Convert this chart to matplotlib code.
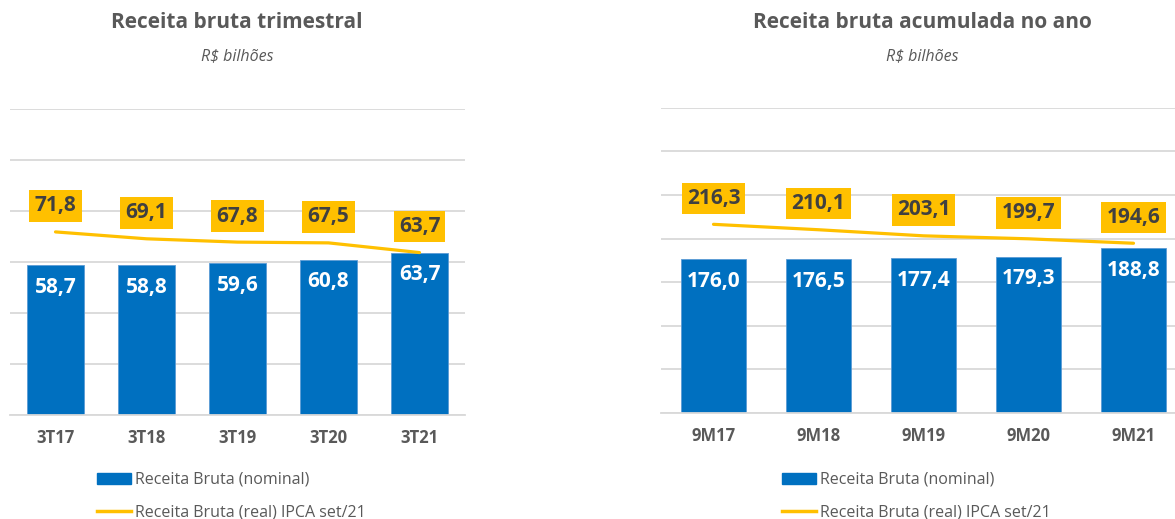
import matplotlib
matplotlib.use("Agg")
import matplotlib.pyplot as plt
from matplotlib.lines import Line2D
from matplotlib.patches import Patch

plt.rcParams['font.family'] = ['Open Sans', 'DejaVu Sans']

# dados
trim_labels = ['3T17', '3T18', '3T19', '3T20', '3T21']
trim_nominal = [58.7, 58.8, 59.6, 60.8, 63.7]
trim_real = [71.8, 69.1, 67.8, 67.5, 63.7]

acum_labels = ['9M17', '9M18', '9M19', '9M20', '9M21']
acum_nominal = [176.0, 176.5, 177.4, 179.3, 188.8]
acum_real = [216.3, 210.1, 203.1, 199.7, 194.6]

azul = '#0070C0'
amarelo = '#FFC000'
cinza = '#595959'
escuro = '#404040'
grade = '#D9D9D9'


def fmt(v):
    return f'{v:.1f}'.replace('.', ',')


def painel(ax, labels, nominal, real, ymax, step, largura):
    x = range(len(labels))
    ax.bar(x, nominal, width=largura, color=azul, edgecolor='#5B9BD5', linewidth=0.6, zorder=2)
    ax.plot(x, real, color=amarelo, lw=2.3, solid_capstyle='round', zorder=3)
    ax.set_ylim(0, ymax)
    ax.set_xlim(-0.5, len(labels) - 0.5)
    ax.set_yticks(range(0, ymax + 1, step))
    ax.grid(axis='y', color=grade, lw=1.3, zorder=0)
    ax.set_axisbelow(True)
    for s in ['top', 'right', 'left']:
        ax.spines[s].set_visible(False)
    ax.spines['bottom'].set_color(grade)
    ax.spines['bottom'].set_linewidth(1.3)
    ax.tick_params(axis='y', left=False, labelleft=False)
    ax.tick_params(axis='x', length=0, pad=10)
    ax.set_xticks(list(x))
    ax.set_xticklabels(labels, fontsize=12, fontweight='bold', color=cinza)
    for i, v in enumerate(nominal):
        ax.annotate(fmt(v), (i, v), xytext=(0, -22), textcoords='offset pixels',
                    ha='center', va='center', fontsize=15, fontweight='bold', color='white', zorder=4)
    for i, v in enumerate(real):
        ax.annotate(fmt(v), (i, v), xytext=(0, 26), textcoords='offset pixels',
                    ha='center', va='center', fontsize=15, fontweight='bold', color=escuro, zorder=5,
                    bbox=dict(boxstyle='square,pad=0.25', fc=amarelo, ec='none'))


fig = plt.figure(figsize=(11.75, 5.19), dpi=100)
ax1 = fig.add_axes([10 / 1175, 1 - 415 / 519, 455 / 1175, 306 / 519])
ax2 = fig.add_axes([661 / 1175, 1 - 413 / 519, 525 / 1175, 305.3 / 519])

painel(ax1, trim_labels, trim_nominal, trim_real, 120, 20, 0.63)
painel(ax2, acum_labels, acum_nominal, acum_real, 350, 50, 0.625)

fig.text(237 / 1175, 1 - 23 / 519, 'Receita bruta trimestral', ha='center', va='center',
         fontsize=15, fontweight='bold', color=cinza)
fig.text(237 / 1175, 1 - 56 / 519, 'R$ bilhões', ha='center', va='center',
         fontsize=11.5, style='italic', color=cinza)
fig.text(922 / 1175, 1 - 23 / 519, 'Receita bruta acumulada no ano', ha='center', va='center',
         fontsize=15, fontweight='bold', color=cinza)
fig.text(922 / 1175, 1 - 56 / 519, 'R$ bilhões', ha='center', va='center',
         fontsize=11.5, style='italic', color=cinza)

handles = [Patch(color=azul), Line2D([], [], color=amarelo, lw=2.5)]
nomes = ['Receita Bruta (nominal)', 'Receita Bruta (real) IPCA set/21']
for x0 in [97 / 1175, 782 / 1175]:
    fig.legend(handles, nomes, loc='upper left', bbox_to_anchor=(x0, 1 - 472 / 519),
               frameon=False, fontsize=11.5, labelcolor=cinza, handlelength=2.1,
               handletextpad=0.25, labelspacing=1.05, borderpad=0, borderaxespad=0)

fig.savefig('out.png', dpi=100)
